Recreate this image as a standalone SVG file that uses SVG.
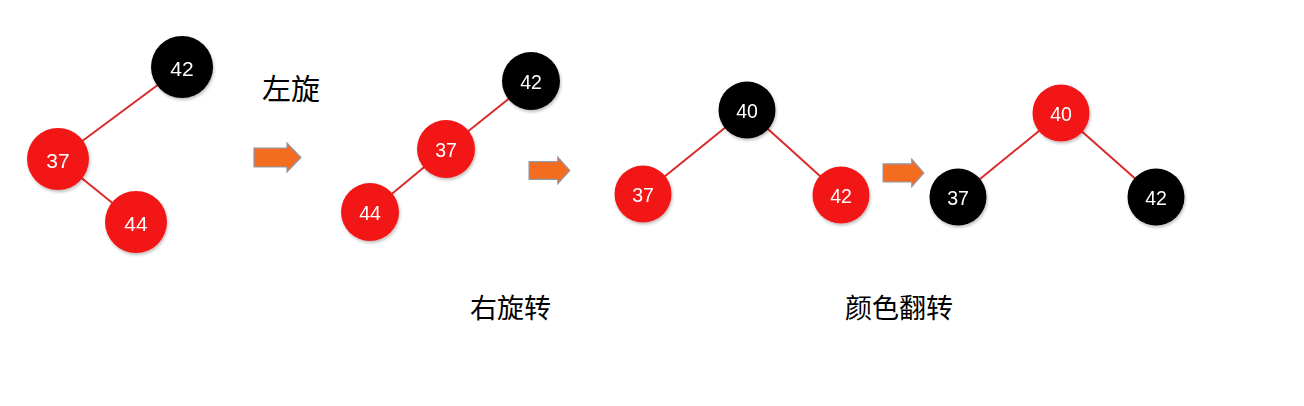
<svg xmlns="http://www.w3.org/2000/svg" width="1304" height="406" viewBox="0 0 1304 406">
<style>
.edge{stroke:#DA2A2A;stroke-width:2;fill:none}
.red{fill:#F21616}
.black{fill:#000}
.num{font-family:"Liberation Sans",Arial,sans-serif;font-size:19.5px;fill:#fff;text-anchor:middle;dominant-baseline:central}
.lbl{font-family:"Noto Sans CJK SC","Noto Sans",sans-serif;fill:#000}
.arrow{fill:#F36C1F;stroke:#8D9BB0;stroke-width:1.2}
</style>
<defs>
<filter id="sh" x="-30%" y="-30%" width="160%" height="160%">
<feDropShadow dx="1" dy="2" stdDeviation="1.5" flood-color="#000" flood-opacity="0.25"/>
</filter>
<path id="arr" d="M0,5 H33 V0 L47,14.5 L33,29 V24 H0 Z"/>
</defs>
<rect width="1304" height="406" fill="#fff"/>
<g id="connectors">
<line class="edge" x1="182" y1="67" x2="58" y2="159"/>
<line class="edge" x1="58" y1="159" x2="136" y2="222"/>
<line class="edge" x1="531" y1="81" x2="446" y2="149"/>
<line class="edge" x1="446" y1="149" x2="370" y2="212"/>
<line class="edge" x1="747" y1="110" x2="643" y2="194"/>
<line class="edge" x1="747" y1="110" x2="841" y2="195"/>
<line class="edge" x1="1061" y1="113" x2="958" y2="197"/>
<line class="edge" x1="1061" y1="113" x2="1156" y2="197"/>
</g>
<g id="t1-42" filter="url(#sh)"><circle class="black" cx="182" cy="67" r="31"/><text class="num" x="182" y="68" style="font-size:21px">42</text></g>
<g id="t1-37" filter="url(#sh)"><circle class="red" cx="58" cy="159" r="31"/><text class="num" x="58" y="160" style="font-size:21px">37</text></g>
<g id="t1-44" filter="url(#sh)"><circle class="red" cx="136" cy="222" r="31"/><text class="num" x="136" y="223" style="font-size:21px">44</text></g>
<g id="label-left"><text class="lbl" x="262" y="100" font-size="29">左旋</text></g>
<g id="arrow1"><use href="#arr" class="arrow" transform="translate(254,143)"/></g>
<g id="t2-42" filter="url(#sh)"><circle class="black" cx="531" cy="81" r="29"/><text class="num" x="531" y="82">42</text></g>
<g id="t2-37" filter="url(#sh)"><circle class="red" cx="446" cy="149" r="29"/><text class="num" x="446" y="150">37</text></g>
<g id="t2-44" filter="url(#sh)"><circle class="red" cx="370" cy="212" r="29"/><text class="num" x="370" y="213">44</text></g>
<g id="arrow2"><use href="#arr" class="arrow" transform="translate(529,157) scale(0.87,0.93)"/></g>
<g id="t3-40" filter="url(#sh)"><circle class="black" cx="747" cy="110" r="28.5"/><text class="num" x="747" y="111">40</text></g>
<g id="t3-37" filter="url(#sh)"><circle class="red" cx="643" cy="194" r="28.5"/><text class="num" x="643" y="195">37</text></g>
<g id="t3-42" filter="url(#sh)"><circle class="red" cx="841" cy="195" r="28.5"/><text class="num" x="841" y="196">42</text></g>
<g id="arrow3"><use href="#arr" class="arrow" transform="translate(883,159) scale(0.87,0.96)"/></g>
<g id="t4-40" filter="url(#sh)"><circle class="red" cx="1061" cy="113" r="28.5"/><text class="num" x="1061" y="114">40</text></g>
<g id="t4-37" filter="url(#sh)"><circle class="black" cx="958" cy="197" r="28.5"/><text class="num" x="958" y="198">37</text></g>
<g id="t4-42" filter="url(#sh)"><circle class="black" cx="1156" cy="197" r="28.5"/><text class="num" x="1156" y="198">42</text></g>
<g id="label-right-rot"><text class="lbl" x="470" y="318" font-size="27">右旋转</text></g>
<g id="label-flip"><text class="lbl" x="845" y="318" font-size="27">颜色翻转</text></g>
</svg>
